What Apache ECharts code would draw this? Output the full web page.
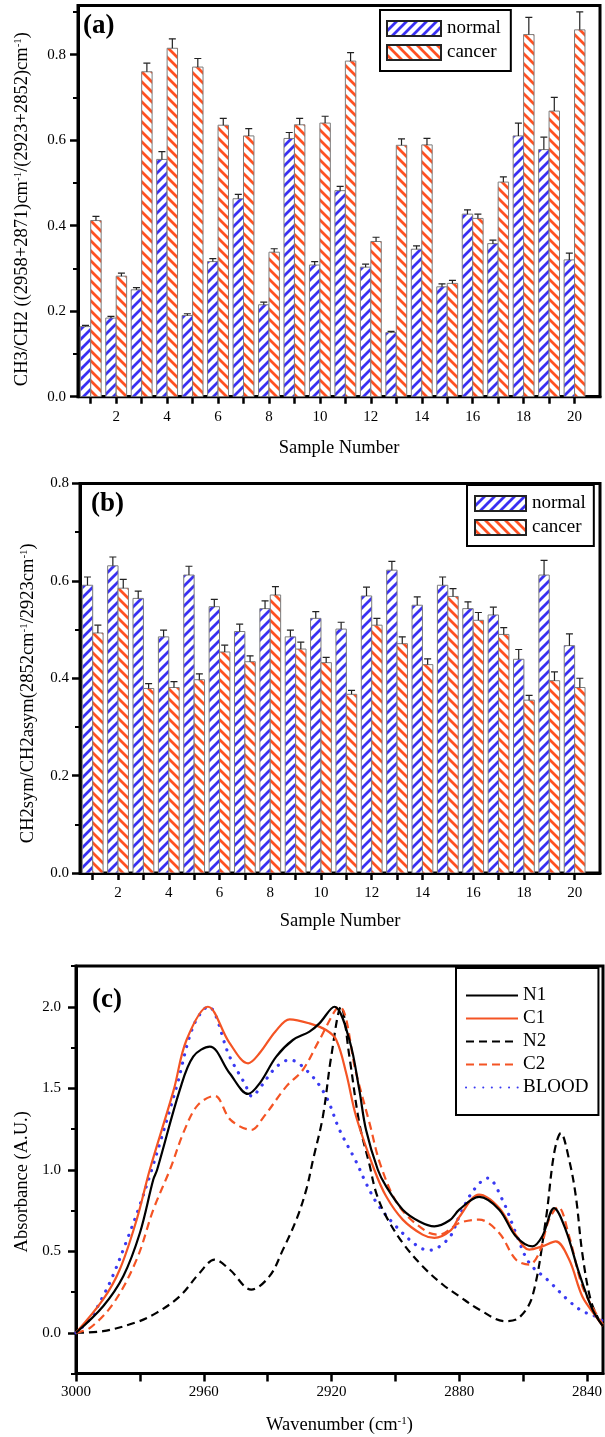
<!DOCTYPE html>
<html>
<head>
<meta charset="utf-8">
<script src="https://cdn.jsdelivr.net/npm/echarts@6/dist/echarts.min.js"></script>
<style>
  html, body { margin: 0; padding: 0; background: #fff; }
  #chart { width: 605px; height: 1437px; }
</style>
</head>
<body>
<div id="chart"></div>
<script>
// Sample numbers shared by panels (a) and (b)
const samples = [1, 2, 3, 4, 5, 6, 7, 8, 9, 10, 11, 12, 13, 14, 15, 16, 17, 18, 19, 20];
const sampleLabels = [2, 4, 6, 8, 10, 12, 14, 16, 18, 20];

// (a) CH3/CH2 ratio
const normalA    = [0.164, 0.184, 0.250, 0.555, 0.190, 0.316, 0.463, 0.215, 0.604, 0.308, 0.482, 0.303, 0.150, 0.345, 0.257, 0.427, 0.358, 0.610, 0.578, 0.320];
const normalAErr = [0.003, 0.004, 0.005, 0.018, 0.004, 0.007, 0.010, 0.006, 0.014, 0.008, 0.010, 0.007, 0.003, 0.008, 0.007, 0.010, 0.008, 0.030, 0.029, 0.016];
const cancerA    = [0.412, 0.282, 0.760, 0.815, 0.771, 0.635, 0.610, 0.338, 0.636, 0.640, 0.785, 0.363, 0.588, 0.589, 0.265, 0.417, 0.502, 0.847, 0.668, 0.858];
const cancerAErr = [0.010, 0.007, 0.020, 0.022, 0.020, 0.016, 0.017, 0.008, 0.015, 0.016, 0.020, 0.010, 0.015, 0.015, 0.007, 0.010, 0.012, 0.040, 0.032, 0.042];
const yTicksA = [0, 0.2, 0.4, 0.6, 0.8];
const yMinorA = [0.1, 0.3, 0.5, 0.7, 0.9];

// (b) CH2 symmetric / asymmetric ratio
const normalB    = [0.591, 0.631, 0.564, 0.485, 0.612, 0.547, 0.496, 0.543, 0.485, 0.523, 0.501, 0.569, 0.622, 0.550, 0.591, 0.543, 0.530, 0.439, 0.612, 0.467];
const normalBErr = [0.017, 0.018, 0.015, 0.014, 0.018, 0.015, 0.015, 0.016, 0.014, 0.014, 0.014, 0.018, 0.018, 0.017, 0.017, 0.014, 0.016, 0.020, 0.030, 0.024];
const cancerB    = [0.493, 0.585, 0.379, 0.381, 0.397, 0.454, 0.434, 0.571, 0.460, 0.432, 0.367, 0.509, 0.471, 0.428, 0.568, 0.519, 0.490, 0.355, 0.395, 0.381];
const cancerBErr = [0.016, 0.018, 0.010, 0.012, 0.012, 0.014, 0.012, 0.017, 0.014, 0.011, 0.008, 0.014, 0.014, 0.012, 0.016, 0.016, 0.014, 0.010, 0.018, 0.019];
const yTicksB = [0, 0.2, 0.4, 0.6, 0.8];
const yMinorB = [0.1, 0.3, 0.5, 0.7];

// (c) absorbance spectra, [wavenumber, absorbance]
const specN1 = [[3000,0],[2991.5,0.163],[2985.2,0.347],[2980,0.612],[2975.8,0.94],[2974.6,1.0],[2967.5,1.49],[2963.3,1.694],[2958.1,1.755],[2951.9,1.592],[2946.1,1.465],[2942.5,1.53],[2937.3,1.694],[2932.1,1.796],[2926.9,1.847],[2923.8,1.898],[2919.1,2.0],[2914.4,1.796],[2911.3,1.49],[2909.2,1.245],[2905.5,1.0],[2902.9,0.898],[2897.7,0.755],[2892.5,0.683],[2887.8,0.653],[2883,0.69],[2880,0.755],[2873.8,0.833],[2867.5,0.755],[2862.3,0.592],[2857.1,0.53],[2854,0.592],[2850.3,0.765],[2846.7,0.633],[2842.5,0.367],[2838.3,0.143],[2835,0.04]];
const specC1 = [[3000,0],[2991.5,0.204],[2986.3,0.388],[2981,0.694],[2976.9,1.0],[2969.4,1.49],[2965.4,1.796],[2958.7,2.0],[2952,1.78],[2946.1,1.653],[2942.5,1.716],[2937.5,1.85],[2933.1,1.923],[2926.9,1.898],[2921.7,1.857],[2918.5,1.796],[2915.4,1.592],[2912.3,1.327],[2906.6,1.0],[2902.9,0.837],[2897.7,0.694],[2891.5,0.602],[2887.8,0.582],[2882.6,0.63],[2880,0.71],[2873.8,0.847],[2867.5,0.765],[2862.3,0.6],[2858.1,0.51],[2854,0.53],[2849.8,0.561],[2845.6,0.449],[2841.5,0.224],[2837.3,0.102],[2835,0.04]];
const specN2 = [[3000,0],[2991.5,0.01],[2981,0.065],[2974.8,0.122],[2967.5,0.224],[2961.3,0.367],[2956.6,0.449],[2951.9,0.388],[2945.1,0.265],[2939.4,0.347],[2935.2,0.51],[2931,0.694],[2927.9,0.878],[2925.8,1.06],[2922.7,1.327],[2920.1,1.694],[2917,2.0],[2914.4,1.694],[2911.3,1.286],[2908.1,1.03],[2906,0.857],[2902.9,0.714],[2897.7,0.551],[2891.5,0.408],[2885.2,0.296],[2880,0.224],[2873.8,0.143],[2865.6,0.071],[2861.3,0.092],[2857.1,0.224],[2852.9,0.694],[2850.3,1.102],[2848.2,1.225],[2845.6,1.061],[2843.5,0.837],[2841.5,0.49],[2838.9,0.204],[2836.3,0.08],[2835,0.04]];
const specC2 = [[3000,0],[2995.6,0.03],[2988.3,0.18],[2981,0.45],[2975.8,0.755],[2970.6,1.0],[2966,1.245],[2961.8,1.398],[2956.6,1.453],[2951.6,1.306],[2945.1,1.245],[2941.5,1.317],[2934.2,1.51],[2929,1.612],[2923.8,1.796],[2917.5,2.0],[2912.3,1.592],[2908.1,1.286],[2904.5,1.02],[2898.8,0.775],[2890.4,0.622],[2886.3,0.602],[2880,0.673],[2873.8,0.694],[2867.5,0.612],[2862.3,0.449],[2858.1,0.418],[2855,0.49],[2851.9,0.694],[2849,0.771],[2845.6,0.592],[2841.5,0.286],[2837.3,0.122],[2835,0.05]];
const specBlood = [[3000,0],[2995.6,0.086],[2991.5,0.225],[2988.3,0.357],[2984.2,0.561],[2980.5,0.755],[2976.3,1.0],[2968.5,1.51],[2963.3,1.88],[2958.6,2.0],[2951.9,1.694],[2947.2,1.53],[2944.8,1.449],[2942.5,1.5],[2937.3,1.63],[2933.1,1.674],[2926.9,1.592],[2921.7,1.449],[2917.5,1.245],[2912.3,1.05],[2909.2,0.918],[2905.5,0.786],[2899.8,0.653],[2893,0.53],[2889.4,0.506],[2883.2,0.582],[2880,0.714],[2875.8,0.867],[2871.1,0.949],[2866.5,0.816],[2862.3,0.612],[2858.1,0.429],[2851.9,0.316],[2845.6,0.194],[2841.5,0.133],[2837.3,0.1],[2835,0.07]];
const wavenumberLabels = [2840, 2880, 2920, 2960, 3000];
const wavenumberTicks = [2840, 2860, 2880, 2900, 2920, 2940, 2960, 2980, 3000];
const absTicks = [0, 0.5, 1.0, 1.5, 2.0];
const absMinor = [-0.25, 0.25, 0.75, 1.25, 1.75, 2.25];

const SERIF = '"Liberation Serif", "DejaVu Serif", serif';
const BLUE = '#3a30f2';
const RED = '#ff5022';

// Diagonal hatch fill built on a small canvas tile
function hatch(color, rising) {
  const n = 10;
  const c = document.createElement('canvas');
  c.width = n; c.height = n;
  const g = c.getContext('2d');
  g.fillStyle = '#ffffff';
  g.fillRect(0, 0, n, n);
  g.strokeStyle = color;
  g.lineWidth = 2.8;
  g.beginPath();
  if (rising) {
    g.moveTo(-n / 2, n / 2); g.lineTo(n / 2, -n / 2);
    g.moveTo(0, n); g.lineTo(n, 0);
    g.moveTo(n / 2, n * 1.5); g.lineTo(n * 1.5, n / 2);
  } else {
    g.moveTo(-n / 2, n / 2); g.lineTo(n / 2, n * 1.5);
    g.moveTo(0, 0); g.lineTo(n, n);
    g.moveTo(n / 2, -n / 2); g.lineTo(n * 1.5, n / 2);
  }
  g.stroke();
  return { image: c, repeat: 'repeat' };
}
const blueHatch = hatch(BLUE, true);
const redHatch = hatch(RED, false);

const BAR_W = 0.41;

// Bar with its upper error whisker
function barWithError(from, to, fill) {
  return function (params, api) {
    const x = api.value(0), v = api.value(1), e = api.value(2);
    const base = api.coord([x + from, 0]);
    const tip = api.coord([x + to, v]);
    const err = api.coord([x + (from + to) / 2, v + e]);
    const cx = err[0];
    return {
      type: 'group',
      children: [
        { type: 'rect', shape: { x: base[0], y: tip[1], width: tip[0] - base[0], height: base[1] - tip[1] },
          style: { fill: fill, stroke: '#7c7c7c', lineWidth: 1 } },
        { type: 'line', shape: { x1: cx, y1: tip[1], x2: cx, y2: err[1] }, style: { stroke: '#222', lineWidth: 1.2 } },
        { type: 'line', shape: { x1: cx - 3.5, y1: err[1], x2: cx + 3.5, y2: err[1] }, style: { stroke: '#222', lineWidth: 1.2 } }
      ]
    };
  };
}

function barSeries(name, axisIdx, values, errors, from, to, fill) {
  return {
    name: name, type: 'custom', xAxisIndex: axisIdx, yAxisIndex: axisIdx,
    itemStyle: { color: fill, borderColor: '#222', borderWidth: 1 },
    renderItem: barWithError(from, to, fill),
    clip: true,
    data: samples.map((s, i) => [s, values[i], errors[i]])
  };
}

const supRich = { s: { fontFamily: SERIF, fontSize: 11, verticalAlign: 'top', lineHeight: 18 } };
function nameStyle(shift) {
  return { fontFamily: SERIF, fontSize: 18.5, color: '#000', rich: supRich, padding: [0, shift, 0, 0] };
}
const labelStyle = { fontFamily: SERIF, fontSize: 15, color: '#000' };
const axisLine = { show: true, onZero: false, lineStyle: { color: '#000', width: 3 } };

function majorAxis(grid, opts) {
  return Object.assign({
    type: 'value', gridIndex: grid,
    axisLine: axisLine,
    splitLine: { show: false },
    nameTextStyle: nameStyle(0),
    nameLocation: 'middle'
  }, opts);
}
// Second y axis on the same grid carrying only the short intermediate ticks
function minorAxis(grid, opts, values) {
  return Object.assign({
    type: 'value', gridIndex: grid,
    axisLine: { show: false, onZero: false },
    splitLine: { show: false },
    axisLabel: { show: false },
    axisTick: { show: true, length: 5, lineStyle: { color: '#000', width: 2 }, customValues: values }
  }, opts);
}
function ticks(values, len) {
  return { show: true, length: len, lineStyle: { color: '#000', width: 2.5 }, customValues: values };
}
const fmt1 = v => v.toFixed(1);
const fmt0 = v => String(v);

const gridBase = { show: true, borderColor: '#000', borderWidth: 3, outerBoundsMode: 'none', containLabel: false };

const option = {
  animation: false,
  backgroundColor: '#fff',
  title: [
    { text: '(a)', left: 83, top: 13, padding: 0, textStyle: { fontFamily: SERIF, fontSize: 27, fontWeight: 'bold', color: '#000' } },
    { text: '(b)', left: 91, top: 491, padding: 0, textStyle: { fontFamily: SERIF, fontSize: 27, fontWeight: 'bold', color: '#000' } },
    { text: '(c)', left: 92, top: 987, padding: 0, textStyle: { fontFamily: SERIF, fontSize: 27, fontWeight: 'bold', color: '#000' } }
  ],
  legend: [
    { data: ['normal', 'cancer'], orient: 'vertical', left: 380, top: 10, padding: [9, 10, 9, 6], itemGap: 5,
      itemWidth: 54, itemHeight: 15, icon: 'rect', selectedMode: false,
      borderColor: '#000', borderWidth: 2, textStyle: { fontFamily: SERIF, fontSize: 19, color: '#000', padding: [0, 0, 0, 1] } },
    { data: ['normal', 'cancer'], orient: 'vertical', left: 467, top: 485, padding: [9, 8, 9, 7], itemGap: 5,
      itemWidth: 51, itemHeight: 15, icon: 'rect', selectedMode: false,
      borderColor: '#000', borderWidth: 2, textStyle: { fontFamily: SERIF, fontSize: 19, color: '#000', padding: [0, 0, 0, 1] } },
    { data: ['N1', 'C1', 'N2', 'C2', 'BLOOD'], orient: 'vertical', left: 456, top: 968, padding: [18, 10, 18, 9], itemGap: 4,
      itemWidth: 52, itemHeight: 14, selectedMode: false, itemStyle: { opacity: 0 },
      borderColor: '#000', borderWidth: 2, textStyle: { fontFamily: SERIF, fontSize: 19, color: '#000' } }
  ],
  grid: [
    Object.assign({ left: 78, top: 5.5, width: 522, height: 391.2 }, gridBase),
    Object.assign({ left: 80, top: 483.5, width: 520, height: 389.5 }, gridBase),
    Object.assign({ left: 76, top: 966, width: 527, height: 407.5 }, gridBase)
  ],
  xAxis: [
    majorAxis(0, { min: 0.5, max: 21, name: 'Sample Number', nameGap: 42,
      axisTick: ticks(samples, 7), axisLabel: Object.assign({ customValues: sampleLabels, margin: 13 }, labelStyle) }),
    majorAxis(1, { min: 0.5, max: 21, name: 'Sample Number', nameGap: 39,
      axisTick: ticks(samples, 7), axisLabel: Object.assign({ customValues: sampleLabels, margin: 13 }, labelStyle) }),
    majorAxis(2, { min: 2835, max: 3000, inverse: true, name: 'Wavenumber (cm{s|-1})', nameGap: 42,
      axisTick: ticks(wavenumberTicks, 8), axisLabel: Object.assign({ customValues: wavenumberLabels, margin: 11, formatter: fmt0 }, labelStyle) })
  ],
  yAxis: [
    majorAxis(0, { min: 0, max: 0.915, name: 'CH3/CH2 ((2958+2871)cm{s|-1}/(2923+2852)cm{s|-1})', nameGap: 46,
      nameTextStyle: nameStyle(16),
      axisTick: ticks(yTicksA, 8), axisLabel: Object.assign({ customValues: yTicksA, margin: 12, formatter: fmt1 }, labelStyle) }),
    minorAxis(0, { min: 0, max: 0.915, position: 'left' }, yMinorA),
    majorAxis(1, { min: 0, max: 0.8, name: 'CH2sym/CH2asym(2852cm{s|-1}/2923cm{s|-1})', nameGap: 42,
      nameTextStyle: nameStyle(30),
      axisTick: ticks(yTicksB, 8), axisLabel: Object.assign({ customValues: yTicksB, margin: 11, formatter: fmt1 }, labelStyle) }),
    minorAxis(1, { min: 0, max: 0.8, position: 'left' }, yMinorB),
    majorAxis(2, { min: -0.25, max: 2.25, name: 'Absorbance (A.U.)', nameGap: 44,
      nameTextStyle: nameStyle(24),
      axisTick: ticks(absTicks, 8), axisLabel: Object.assign({ customValues: absTicks, margin: 15, formatter: fmt1 }, labelStyle) }),
    minorAxis(2, { min: -0.25, max: 2.25, position: 'left' }, absMinor)
  ],
  series: [
    barSeries('normal', 0, normalA, normalAErr, -BAR_W, 0, blueHatch),
    barSeries('cancer', 0, cancerA, cancerAErr, 0, BAR_W, redHatch),
    Object.assign(barSeries('normal', 1, normalB, normalBErr, -BAR_W, 0, blueHatch), { yAxisIndex: 2 }),
    Object.assign(barSeries('cancer', 1, cancerB, cancerBErr, 0, BAR_W, redHatch), { yAxisIndex: 2 }),
    { name: 'N1', type: 'line', xAxisIndex: 2, yAxisIndex: 4, symbol: 'none', smooth: 0.35,
      lineStyle: { color: '#000', width: 2.2, type: 'solid' }, data: specN1, z: 5 },
    { name: 'C1', type: 'line', xAxisIndex: 2, yAxisIndex: 4, symbol: 'none', smooth: 0.35,
      lineStyle: { color: '#f45424', width: 2.2, type: 'solid' }, data: specC1, z: 4 },
    { name: 'N2', type: 'line', xAxisIndex: 2, yAxisIndex: 4, symbol: 'none', smooth: 0.35,
      lineStyle: { color: '#000', width: 2.2, type: [8, 5] }, data: specN2, z: 3 },
    { name: 'C2', type: 'line', xAxisIndex: 2, yAxisIndex: 4, symbol: 'none', smooth: 0.35,
      lineStyle: { color: '#f45424', width: 2.2, type: [8, 5] }, data: specC2, z: 3 },
    { name: 'BLOOD', type: 'line', xAxisIndex: 2, yAxisIndex: 4, symbol: 'none', smooth: 0.35,
      lineStyle: { color: '#3a3af2', width: 3.2, type: [0.1, 8.5], cap: 'round' }, data: specBlood, z: 2 }
  ]
};

const chart = echarts.init(document.getElementById('chart'), null, { renderer: 'canvas' });
chart.setOption(option);
</script>
</body>
</html>
